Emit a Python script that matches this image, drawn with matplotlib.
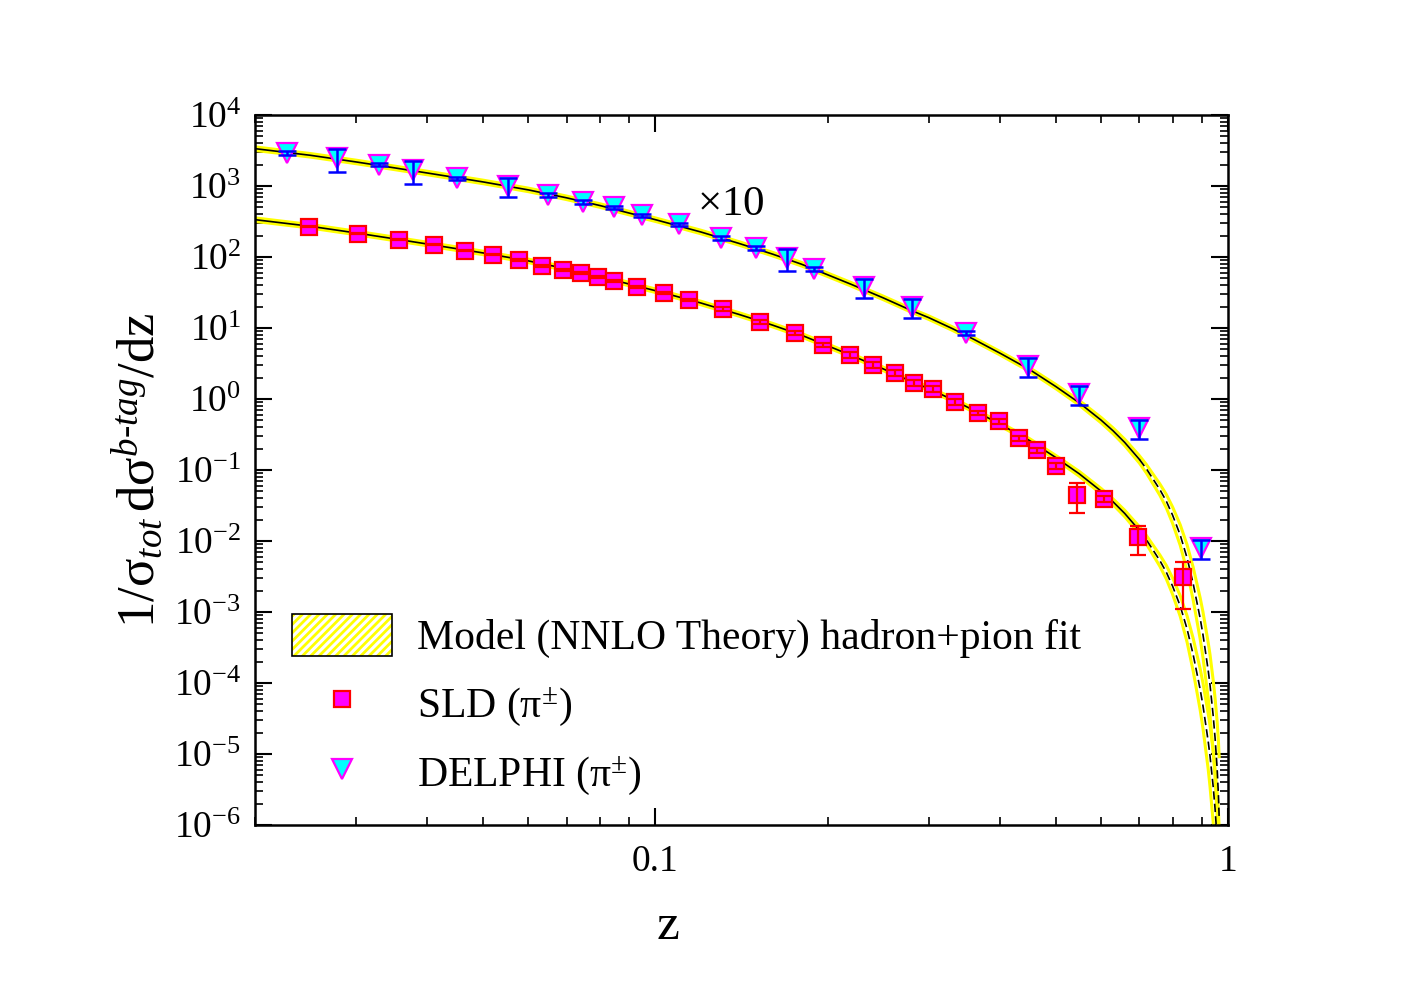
import numpy as np
import matplotlib
matplotlib.use('Agg')
import matplotlib.pyplot as plt
from matplotlib.patches import Patch
from matplotlib.lines import Line2D
from matplotlib.legend_handler import HandlerTuple
from matplotlib.ticker import LogLocator, LogFormatterMathtext, NullFormatter

plt.rcParams['font.family'] = ['Liberation Serif', 'DejaVu Serif']
plt.rcParams['mathtext.fontset'] = 'custom'
plt.rcParams['mathtext.rm'] = 'Liberation Serif'
plt.rcParams['mathtext.it'] = 'Liberation Serif:italic'
plt.rcParams['mathtext.bf'] = 'Liberation Serif:bold'
plt.rcParams['hatch.linewidth'] = 2.0

# ---------------- data ----------------
sld_z = [0.0248, 0.0302, 0.0357, 0.0411, 0.0466, 0.0521, 0.0577, 0.0633, 0.0689, 0.0743,
         0.0795, 0.0848, 0.0927, 0.1037, 0.1146, 0.131, 0.1525, 0.175, 0.196, 0.219,
         0.240, 0.262, 0.283, 0.305, 0.334, 0.366, 0.398, 0.432, 0.464, 0.501,
         0.545, 0.608, 0.697, 0.835]
sld_y = [265, 211, 174, 148, 122, 107, 91, 75, 65.6, 59.5,
         52, 45.9, 37.8, 31.1, 24.8, 18.5, 12.2, 8.5, 5.76, 4.17,
         3.02, 2.32, 1.68, 1.38, 0.91, 0.636, 0.49, 0.28, 0.191, 0.114,
         0.0446, 0.039, 0.0114, 0.0031]
sld_err = [4, 3, 3, 2.5, 2, 2, 2, 2, 2, 2,
           2, 2, 1.5, 1.5, 1, 1, 0.8, 0.5, 0.4, 0.35,
           0.25, 0.2, 0.15, 0.12, 0.08, 0.05, 0.04, 0.025, 0.015, 0.01,
           0.02, 0.004, 0.005, 0.002]

delphi_scale = 10
delphi_z = [0.0227, 0.0278, 0.0329, 0.0377, 0.0451, 0.0552, 0.065, 0.0749, 0.0848, 0.0949,
            0.110, 0.130, 0.150, 0.170, 0.1895, 0.231, 0.281, 0.348, 0.448, 0.550,
            0.699, 0.897]
delphi_y = [290, 245, 200, 165, 128, 99, 74, 59, 50, 38.5,
            28.7, 18.5, 13.4, 9.68, 6.78, 3.78, 1.98, 0.85, 0.292, 0.1175,
            0.0391, 0.000796]
delphi_relerr = [0.06, 0.35, 0.06, 0.35, 0.06, 0.3, 0.06, 0.06, 0.06, 0.06,
                 0.06, 0.06, 0.06, 0.35, 0.06, 0.3, 0.3, 0.06, 0.3, 0.3,
                 0.3, 0.3]

theory_z = [0.02, 0.025, 0.03, 0.035, 0.04, 0.05, 0.06, 0.07, 0.08, 0.09,
            0.1, 0.12, 0.14, 0.16, 0.18, 0.2, 0.22, 0.25, 0.28, 0.3,
            0.33, 0.36, 0.4, 0.45, 0.5, 0.55, 0.6, 0.63, 0.66, 0.70,
            0.72, 0.76, 0.78, 0.80, 0.825, 0.848, 0.869, 0.894, 0.904, 0.923,
            0.93, 0.942, 0.949, 0.957, 0.962, 0.965]
theory_y = [335, 270, 218, 180, 152, 114, 88, 68, 53, 41.5,
            33.5, 22.5, 15.5, 11, 7.9, 5.6, 4.1, 2.65, 1.76, 1.40,
            0.98, 0.69, 0.44, 0.26, 0.15, 0.088, 0.0504, 0.0355, 0.0244, 0.0141,
            0.0104, 0.0053, 0.00364, 0.00231, 0.00121, 5.76e-4, 2.51e-4, 8.06e-5, 4.78e-5, 1.52e-5,
            9.3e-6, 3.43e-6, 1.69e-6, 6.2e-7, 2.6e-7, 1.2e-7]
theory_band_dex = [0.025, 0.025, 0.025, 0.025, 0.025, 0.025, 0.025, 0.025, 0.025, 0.025,
                   0.025, 0.025, 0.025, 0.025, 0.025, 0.025, 0.025, 0.025, 0.025, 0.025,
                   0.025, 0.025, 0.025, 0.027, 0.03, 0.034, 0.038, 0.041, 0.045, 0.052,
                   0.06, 0.08, 0.095, 0.115, 0.145, 0.185, 0.23, 0.29, 0.32, 0.39,
                   0.43, 0.5, 0.56, 0.66, 0.76, 0.86]
theory_solid_until = 0.7

y_ticks_exp = list(range(-6, 5))

# ---------------- figure ----------------
fig = plt.figure(figsize=(14.28, 9.9), dpi=100)
ax = fig.add_axes([0.1786, 0.1667, 0.6814, 0.7172])

tz = np.array(theory_z)
ty = np.array(theory_y)
tb = np.array(theory_band_dex)
solid = tz <= theory_solid_until
first_dash = int(np.argmax(~solid))

for scale in (1, delphi_scale):
    lo = ty * scale * 10 ** (-tb)
    hi = ty * scale * 10 ** (tb)
    ax.plot(tz, lo, color='#FFFF00', lw=2.2, zorder=2, solid_capstyle='butt')
    ax.plot(tz, hi, color='#FFFF00', lw=2.2, zorder=2, solid_capstyle='butt')
    ax.plot(tz[:first_dash], ty[:first_dash] * scale, color='black', lw=1.2, zorder=3)
    ax.plot(tz[first_dash - 1:], ty[first_dash - 1:] * scale, color='black', lw=1.2,
            ls=(0, (5, 2.5)), zorder=3)

# SLD
ax.plot(sld_z, sld_y, ls='none', marker='s', ms=11.5, mfc='#FF00FF', mec='#FF0000',
        mew=1.6, zorder=5)
ax.errorbar(sld_z, sld_y, yerr=sld_err, fmt='none', ecolor='#FF0000', elinewidth=1.6,
            capsize=5.8, capthick=1.6, zorder=6)

# DELPHI (x10)
dz = np.array(delphi_z)
dy = np.array(delphi_y) * delphi_scale
derr = dy * np.array(delphi_relerr)
ax.plot(dz, dy, ls='none', marker='v', ms=14, mfc='#00FFFF', mec='#FF00FF',
        mew=1.6, zorder=5)
ax.errorbar(dz, dy, yerr=derr, fmt='none', ecolor='#0000FF', elinewidth=1.8,
            capsize=6.5, capthick=1.8, zorder=6)

ax.text(0.1184, 540, r'$\times$10', fontsize=31, ha='left', va='center')

# axes
ax.set_xscale('log')
ax.set_yscale('log')
ax.set_xlim(0.02, 1.0)
ax.set_ylim(1e-6, 1e4)
ax.set_xticks([0.1, 1], ['0.1', '1'])
ax.xaxis.set_minor_locator(LogLocator(base=10, subs=np.arange(2, 10), numticks=50))
ax.xaxis.set_minor_formatter(NullFormatter())
ax.set_yticks([10.0 ** e for e in y_ticks_exp])
ax.yaxis.set_major_formatter(LogFormatterMathtext())
ax.yaxis.set_minor_locator(LogLocator(base=10, subs=np.arange(2, 10), numticks=100))
ax.yaxis.set_minor_formatter(NullFormatter())

ax.tick_params(which='both', direction='in', top=True, right=True, labelsize=27)
ax.tick_params(which='major', length=12, width=1.5)
ax.tick_params(which='minor', length=6, width=1.2)
ax.tick_params(axis='y', which='major', pad=10)
ax.tick_params(axis='x', which='major', pad=14)
for s in ax.spines.values():
    s.set_linewidth(1.8)

ax.set_xlabel('z', fontsize=37)
ax.xaxis.set_label_coords(0.424, -0.11)
ax.set_ylabel(r'$\mathrm{1/\sigma}_{tot}\,\mathrm{d\sigma}^{b\text{-}tag}\mathrm{/dz}$',
              fontsize=38, labelpad=6)

# legend
band_handle = (Patch(facecolor='white', edgecolor='#FFFF00', hatch='////', lw=0),
               Patch(facecolor='none', edgecolor='black', lw=1.2))
sld_handle = Line2D([], [], ls='none', marker='s', ms=11.5, mfc='#FF00FF',
                    mec='#FF0000', mew=1.6)
del_handle = Line2D([], [], ls='none', marker='v', ms=14, mfc='#00FFFF',
                    mec='#FF00FF', mew=1.6)
ax.legend([band_handle, sld_handle, del_handle],
          ['Model (NNLO Theory) hadron+pion fit', r'SLD ($\mathrm{\pi}^{\pm}$)',
           r'DELPHI ($\mathrm{\pi}^{\pm}$)'],
          handler_map={tuple: HandlerTuple(ndivide=1, pad=0)},
          loc='upper left', bbox_to_anchor=(0.038, 0.297), borderaxespad=0,
          borderpad=0, frameon=False, fontsize=30, handlelength=2.4,
          handleheight=1.17, handletextpad=0.6, labelspacing=0.56)

fig.savefig('out.png', dpi=100)
